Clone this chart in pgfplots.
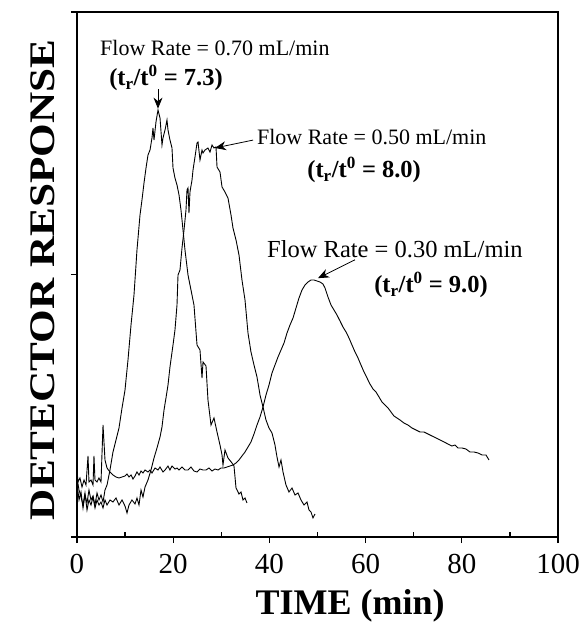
\documentclass[border=0pt]{standalone}
\usepackage{fontspec}
\setmainfont{Liberation Serif}
\usepackage{pgfplots}
\pgfplotsset{compat=1.18}
\usetikzlibrary{arrows.meta}

% elution profiles at three flow rates
\pgfplotstableread{
t y
0.00 10.29
0.42 7.05
0.83 8.57
1.25 5.52
1.66 8.00
2.08 6.48
2.49 8.95
2.91 7.05
3.33 7.81
3.74 6.10
4.16 8.38
4.57 7.05
4.99 8.00
5.41 6.67
5.82 8.95
6.24 9.90
6.86 12.76
7.48 16.19
8.11 18.48
8.73 20.76
9.36 24.57
9.98 28.00
10.60 33.71
11.23 40.38
11.85 46.10
12.47 54.67
13.10 61.33
13.51 64.19
13.93 67.43
14.35 70.29
14.76 72.76
15.18 73.71
15.59 76.00
15.80 77.90
16.01 75.62
16.42 79.05
16.84 81.33
17.26 79.81
17.67 74.67
17.88 76.00
18.30 77.52
18.71 79.43
18.92 77.52
19.33 75.62
19.75 74.10
19.96 70.29
20.37 68.38
20.79 67.05
21.21 65.14
21.62 62.29
22.04 58.48
22.45 54.67
23.08 49.90
23.70 47.05
24.32 44.19
24.95 36.57
25.57 35.62
25.99 30.29
26.20 33.33
26.82 32.57
27.23 26.10
27.86 21.33
28.48 22.67
29.11 20.00
29.73 17.52
30.15 15.62
30.35 13.71
30.77 16.57
31.39 15.05
32.22 14.10
32.64 13.52
33.06 9.33
33.68 8.19
34.10 8.57
34.51 7.05
34.93 7.43
35.34 6.48
}\flowseventy

\pgfplotstableread{
t y
0.00 11.24
0.42 8.95
0.83 7.62
1.25 6.10
1.66 8.38
2.08 5.14
2.49 7.05
2.91 6.10
3.33 7.62
3.74 5.52
4.16 7.05
4.57 6.10
4.99 6.67
5.41 5.52
5.82 7.05
6.24 6.10
6.86 7.05
7.48 6.67
8.11 7.43
8.73 6.10
9.36 7.05
9.98 5.90
10.40 4.57
10.81 6.10
11.43 7.05
12.06 6.29
12.47 7.43
12.89 6.10
13.31 8.95
13.72 7.62
14.14 9.52
14.76 10.86
15.38 12.76
16.01 15.05
16.63 16.95
17.26 19.05
17.67 20.95
18.09 24.19
18.50 26.48
18.92 28.95
19.33 32.38
19.96 36.57
20.37 39.43
20.79 44.19
21.00 49.90
21.41 50.86
21.83 55.05
22.25 58.48
22.66 62.29
22.87 66.10
23.08 66.48
23.28 61.71
23.49 65.71
23.91 68.00
24.12 69.90
24.53 72.38
24.95 75.05
25.16 75.24
25.57 71.81
25.99 73.71
26.20 73.14
26.61 73.71
27.23 74.10
27.65 73.33
28.07 74.67
28.48 74.10
28.90 74.29
29.11 70.48
29.73 69.52
30.15 66.67
30.77 65.71
31.39 64.57
32.02 61.33
32.43 58.86
33.06 56.57
33.68 53.71
34.30 48.95
34.93 45.14
35.55 38.86
36.17 35.24
36.80 32.76
37.42 30.48
38.05 27.05
38.67 24.76
39.29 22.29
39.92 20.76
40.54 19.81
41.16 17.52
41.58 15.24
42.00 13.33
42.41 14.67
42.83 12.38
43.45 9.90
44.07 8.57
44.70 9.33
45.32 8.00
45.95 8.38
46.57 7.05
47.19 6.10
47.82 6.67
48.23 5.14
48.65 4.76
49.06 3.62
49.48 4.38
}\flowfifty

\pgfplotstableread{
t y
0.00 12.76
0.21 10.48
0.62 11.24
1.04 9.52
1.46 10.86
1.87 9.90
2.29 15.43
2.49 10.48
2.91 10.86
3.33 9.90
3.53 15.43
3.74 10.86
4.16 10.48
4.57 11.24
4.99 10.48
5.41 21.33
5.82 14.67
6.24 13.14
6.86 12.38
7.48 11.81
8.11 11.43
8.73 11.24
9.36 11.43
9.98 11.62
10.40 12.00
10.81 11.43
11.23 11.81
11.64 11.05
12.06 11.62
12.47 12.38
12.89 11.81
13.31 12.57
13.72 12.19
14.14 12.76
14.76 12.38
15.18 12.76
15.59 12.19
16.22 13.14
16.84 12.76
17.26 13.33
17.88 12.38
18.30 12.76
18.92 13.52
19.33 12.76
19.75 13.52
20.37 12.95
20.79 13.14
21.21 12.76
21.83 13.33
22.45 12.76
23.08 12.76
23.70 13.33
24.32 12.57
24.95 12.38
25.57 12.95
26.20 12.76
26.82 12.76
27.44 13.14
28.07 12.57
28.69 12.95
29.31 12.76
29.94 13.14
30.56 13.14
31.19 13.33
31.81 13.52
32.43 13.71
33.06 14.10
33.68 14.67
34.30 15.43
34.93 16.19
35.55 17.14
36.17 18.10
36.80 19.62
37.42 21.33
38.05 22.86
38.67 24.76
39.29 27.05
39.92 28.95
40.54 31.24
41.16 32.76
41.79 34.29
42.41 35.62
43.04 36.95
43.66 38.86
44.28 40.38
44.91 41.71
45.53 43.62
46.15 45.52
46.78 47.05
47.40 48.00
48.02 48.57
48.65 48.95
49.27 48.95
49.90 48.76
50.52 48.57
51.14 48.19
51.56 47.43
52.18 45.71
52.81 44.19
53.43 43.24
54.05 42.29
54.68 41.14
55.30 40.00
55.93 39.05
56.55 37.90
57.17 36.57
57.80 35.24
58.42 34.10
59.04 32.76
59.67 31.43
60.29 30.29
60.91 29.14
61.54 28.19
62.16 27.62
62.79 26.67
63.41 25.71
64.03 25.14
64.66 24.57
65.28 23.81
65.90 23.05
66.53 22.67
67.15 22.29
67.98 21.71
68.81 21.33
69.65 20.76
70.48 20.38
71.31 20.00
72.14 20.00
72.97 19.62
73.80 19.24
74.64 18.86
75.47 18.48
76.30 18.10
77.13 17.71
77.96 17.33
78.59 17.52
79.21 16.95
80.04 16.95
80.87 16.76
81.70 16.19
82.54 16.19
83.37 16.00
84.20 15.62
85.03 15.62
85.65 14.67
}\flowthirty

\begin{document}
\begin{tikzpicture}
\begin{axis}[
  scale only axis, width=481pt, height=525pt,
  xmin=0, xmax=100, ymin=0, ymax=100,
  axis line style={line width=1.3pt},
  xtick={0,20,...,100}, ytick={0,50,100}, yticklabels={},
  xtick pos=lower, ytick pos=left,
  tick align=outside, major tick length=6pt,
  tick style={line width=1.2pt, black},
  extra x ticks={10,30,50,70,90}, extra x tick labels={},
  extra x tick style={tick align=inside, major tick length=5pt},
  /pgf/number format/assume math mode=true,
  tick label style={font=\fontsize{29}{34}\selectfont},
  xticklabel style={yshift=-8pt},
  xlabel={TIME (min)},
  xlabel style={font=\fontsize{36}{42}\selectfont\bfseries,
    at={(axis description cs:0.568,-0.131)}, anchor=center},
  ylabel={\scalebox{1.2}[1]{DETECTOR RESPONSE}},
  ylabel style={font=\fontsize{36}{40}\selectfont\bfseries,
    at={(axis description cs:-0.071,0.49)}, anchor=center},
]
\addplot[black, line width=0.9pt, mark=none] table[x=t, y=y] {\flowseventy};
\addplot[black, line width=0.9pt, mark=none] table[x=t, y=y] {\flowfifty};
\addplot[black, line width=0.9pt, mark=none] table[x=t, y=y] {\flowthirty};

\coordinate (ll) at (rel axis cs:0,0);
\coordinate (ur) at (rel axis cs:1,1);

\tikzset{note/.style={font=\fontsize{22}{26}\selectfont, inner sep=0pt},
         bignote/.style={font=\fontsize{24.5}{29}\selectfont, inner sep=0pt},
         ratio/.style={font=\fontsize{24.5}{29}\selectfont\bfseries, inner sep=0pt},
         pointer/.style={-{Stealth[length=11pt,width=9pt]}, line width=0.8pt}}

\node[note, anchor=west] at (axis cs:4.78,93.1) {Flow Rate = 0.70 mL/min};
\node[ratio] at (axis cs:18.5,87.4) {(t\textsubscript{r}/t\textsuperscript{0} = 7.3)};
\draw[pointer] (axis cs:16.84,85.3) -- (axis cs:16.84,81.6);

\node[note, anchor=west] at (axis cs:37.4,76.2) {Flow Rate = 0.50 mL/min};
\node[ratio] at (axis cs:59.7,69.9) {(t\textsubscript{r}/t\textsuperscript{0} = 8.0)};
\draw[pointer] (axis cs:36.6,75.6) -- (axis cs:28.7,74.1);

\node[bignote, anchor=west] at (axis cs:39.5,54.9) {Flow Rate = 0.30 mL/min};
\node[ratio] at (axis cs:73.6,48.0) {(t\textsubscript{r}/t\textsuperscript{0} = 9.0)};
\draw[pointer] (axis cs:57.8,52.8) -- (axis cs:50.1,49.3);
\end{axis}
\pgfresetboundingbox
\path[use as bounding box] ([xshift=-77pt,yshift=-87pt]ll) rectangle ([xshift=26pt,yshift=12pt]ur);
\end{tikzpicture}
\end{document}
